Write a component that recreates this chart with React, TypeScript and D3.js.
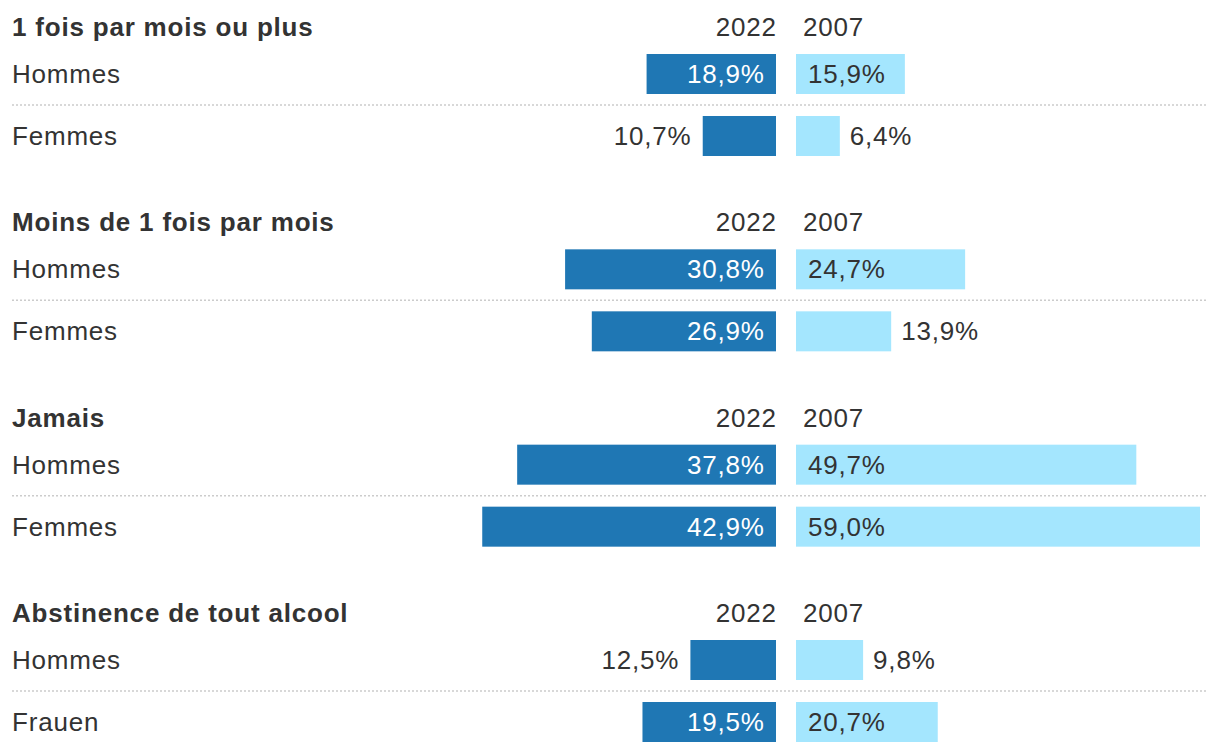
import React from 'react';
import * as d3 from 'd3';

const WIDTH = 1220;
const HEIGHT = 754;

const groups = ['1 fois par mois ou plus', 'Moins de 1 fois par mois', 'Jamais', 'Abstinence de tout alcool'];
const rowLabels = [
  ['Hommes', 'Femmes'],
  ['Hommes', 'Femmes'],
  ['Hommes', 'Femmes'],
  ['Hommes', 'Frauen'],
];
const years = ['2022', '2007'];
const values2022 = [
  [18.9, 10.7],
  [30.8, 26.9],
  [37.8, 42.9],
  [12.5, 19.5],
];
const values2007 = [
  [15.9, 6.4],
  [24.7, 13.9],
  [49.7, 59.0],
  [9.8, 20.7],
];

const DARK = '#1f77b4';
const LIGHT = '#a4e6fe';
const TEXT = '#333333';
const FONT = '"Liberation Sans", Arial, Helvetica, sans-serif';
const FS = 26;
const LS = 0.8;

const CENTER_LEFT = 776; // right edge of 2022 bars
const CENTER_RIGHT = 796; // left edge of 2007 bars
const BAR_H = 40;
const ROW_STEP = 62;
const INSIDE_MIN = 100;

const fmt = (v: number) => d3.format('.1f')(v).replace('.', ',') + '%';

export default function App() {
  const x = d3.scaleLinear().domain([0, 59]).range([0, 404]);
  const groupY = d3.scaleLinear().domain([0, 3]).range([0, 586]);

  return (
    <div style={{ position: 'fixed', left: 0, top: 0 }}>
      <svg
        width={WIDTH}
        height={HEIGHT}
        style={{ display: 'block', fontFamily: FONT, fontSize: FS, letterSpacing: LS }}
      >
        <rect width={WIDTH} height={HEIGHT} fill="#fff" />
        {groups.map((g, gi) => {
          const top = groupY(gi);
          return (
            <g key={g} transform={`translate(0, ${top})`}>
              <text x={12} y={27} dy="0.35em" fontWeight="bold" fill={TEXT}>
                {g}
              </text>
              <text x={CENTER_LEFT + LS} y={27} dy="0.35em" fill={TEXT} textAnchor="end">
                {years[0]}
              </text>
              <text x={CENTER_RIGHT + 7} y={27} dy="0.35em" fill={TEXT}>
                {years[1]}
              </text>
              {rowLabels[gi].map((label, ri) => {
                const y0 = 54 + ri * ROW_STEP;
                const cy = y0 + BAR_H / 2;
                const v1 = values2022[gi][ri];
                const v2 = values2007[gi][ri];
                const w1 = x(v1);
                const w2 = x(v2);
                const in1 = w1 >= INSIDE_MIN;
                const in2 = w2 >= INSIDE_MIN;
                return (
                  <g key={label + ri}>
                    {ri > 0 && (
                      <line
                        x1={12}
                        x2={1208}
                        y1={y0 - 11}
                        y2={y0 - 11}
                        stroke="#cccccc"
                        strokeWidth={1.5}
                        strokeDasharray="2 2"
                      />
                    )}
                    <text x={12} y={cy} dy="0.35em" fill={TEXT}>
                      {label}
                    </text>
                    <rect x={CENTER_LEFT - w1} y={y0} width={w1} height={BAR_H} fill={DARK} />
                    <text
                      x={(in1 ? CENTER_LEFT - 12 : CENTER_LEFT - w1 - 12) + LS}
                      y={cy}
                      dy="0.35em"
                      textAnchor="end"
                      fill={in1 ? '#ffffff' : TEXT}
                    >
                      {fmt(v1)}
                    </text>
                    <rect x={CENTER_RIGHT} y={y0} width={w2} height={BAR_H} fill={LIGHT} />
                    <text
                      x={in2 ? CENTER_RIGHT + 12 : CENTER_RIGHT + w2 + 10}
                      y={cy}
                      dy="0.35em"
                      fill={TEXT}
                    >
                      {fmt(v2)}
                    </text>
                  </g>
                );
              })}
            </g>
          );
        })}
      </svg>
    </div>
  );
}
